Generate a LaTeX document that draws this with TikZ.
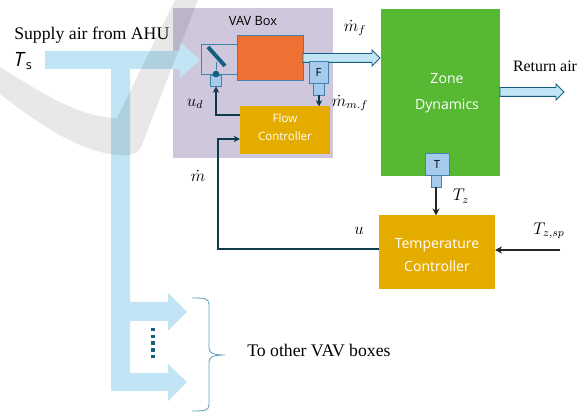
\documentclass[tikz,border=0pt]{standalone}
\usepackage{amsmath,amssymb}
\usepackage{fontspec}
\setmainfont{Liberation Serif}
\setsansfont{Open Sans}
\usepackage{tikz}
\usepackage{xcolor}
\usetikzlibrary{shapes.arrows,arrows.meta}
\definecolor{ductblue}{HTML}{C1E5F5}
\definecolor{sensorblue}{HTML}{A6CAEC}
\definecolor{tealline}{HTML}{156082}
\definecolor{edgeblue}{HTML}{3F84AD}
\definecolor{boxlilac}{HTML}{CFC7DB}
\definecolor{heatorange}{HTML}{ED7132}
\definecolor{ctrlgold}{HTML}{E5AC00}
\definecolor{zonegreen}{HTML}{56B833}
\definecolor{wirenavy}{HTML}{0E3A4E}
\tikzset{
  ctrlbox/.style={fill=ctrlgold,inner sep=0pt,outer sep=0pt},
  boxtext/.style={text=white,align=center,inner sep=0pt},
  sensorbox/.style={fill=sensorblue,draw=edgeblue,line width=0.6pt,inner sep=0pt,outer sep=0pt,font=\sffamily\fontsize{8}{9}\selectfont},
  flowarrow/.style={single arrow,draw=tealline,fill=ductblue,line width=0.6pt,inner sep=0.1cm,outer sep=0pt,single arrow head extend=0.09cm,anchor=west,shape border rotate=0},
  wire/.style={draw=wirenavy,line width=0.8pt,-{Stealth[length=4.5pt,width=4.5pt]}},
  blackwire/.style={draw=black!85,line width=0.8pt,-{Stealth[length=5pt,width=5pt]}},
  mathlabel/.style={inner sep=0pt,font=\fontsize{12}{14}\selectfont},
  serifnote/.style={inner sep=0pt,anchor=west,font=\fontsize{12.6}{15}\selectfont},
}
\begin{document}
\begin{tikzpicture}[x=0.025cm,y=-0.025cm]
\useasboundingbox (0,0) rectangle (580,412);
% VAV box and zone
\fill[boxlilac] (173,8) rectangle (333,158);
\node[fill=zonegreen,draw=white,line width=0.4pt,minimum width=3cm,minimum height=4.2cm,inner sep=0pt,outer sep=0pt] (zone) at (440,92) {};
\node[boxtext,font=\sffamily\fontsize{10}{12}\selectfont] (zonetext) at (447,93) {Zone\\[6.5pt]Dynamics};
% supply duct
\fill[ductblue] (45,51) -- (180,51) -- (180,42) -- (200,60) -- (180,78) -- (180,69) -- (130,69) -- (130,302) -- (168,302) -- (168,293) -- (187,312) -- (168,331) -- (168,321) -- (130,321) -- (130,373) -- (168,373) -- (168,364) -- (187,382) -- (168,401) -- (168,391) -- (111,391) -- (111,69) -- (45,69) -- cycle;
\draw[tealline,line width=2.4pt,dash pattern=on 2.4pt off 2.4pt] (153,328) -- (153,358);
% brace
\draw[edgeblue!80,line width=0.6pt] (192,298) .. controls (203,298) and (209,298) .. (209,304) -- (209,348) .. controls (209,353) and (213,355) .. (225,355) .. controls (213,355) and (209,357) .. (209,362) -- (209,405) .. controls (209,411) and (203,411) .. (192,411);
% damper and heater
\node[draw=edgeblue,line width=0.7pt,minimum width=0.9cm,minimum height=0.75cm,inner sep=0pt,outer sep=0pt] (damper) at (219,59) {};
\node[fill=heatorange,draw=edgeblue,line width=0.7pt,minimum width=1.65cm,minimum height=1.1cm,inner sep=0pt,outer sep=0pt] (heater) at (270,58) {};
\node[sensorbox,minimum width=0.275cm,minimum height=0.275cm] (actuator) at (216,81) {};
\node[circle,fill=tealline,minimum size=0.17cm,inner sep=0pt] (pivot) at (216,74) {};
\draw[edgeblue,line width=0.7pt] (pivot) -- (216,62);
\draw[tealline,line width=2.8pt] (208,47) -- (225,66);
% outlet and return
\node[flowarrow,minimum height=1.925cm,minimum width=0.37cm] (outlet) at (heater.east) {};
\node[flowarrow,minimum height=1.6cm,minimum width=0.4cm] (returnair) at (zone.east) {};
\node[inner sep=0pt,font=\fontsize{11.3}{13}\selectfont] (returnlabel) at (545,66) {Return air};
% flow sensor
\node[sensorbox,minimum width=0.475cm,minimum height=0.55cm] (flowsens) at (318.5,72) {F};
\node[sensorbox,minimum width=0.275cm,minimum height=0.3cm] (flowtip) at (319,89) {};
% controllers
\node[ctrlbox,minimum width=2.25cm,minimum height=1.175cm] (flowctrl) at (285,130) {};
\node[boxtext,font=\sffamily\fontsize{8.2}{10}\selectfont] (flowtext) at (285,127.5) {Flow\\[3pt]Controller};
\node[ctrlbox,minimum width=2.9cm,minimum height=1.825cm] (tempctrl) at (437,252) {};
\node[boxtext,font=\sffamily\fontsize{10}{12}\selectfont] (temptext) at (437,255) {Temperature\\[4pt]Controller};
% temperature sensor
\node[sensorbox,minimum width=0.6cm,minimum height=0.55cm] (tempsens) at (437,164) {T};
\node[sensorbox,minimum width=0.25cm,minimum height=0.3cm] (temptip) at (436,181) {};
% signals
\coordinate (tzspin) at (560,250);
\draw[wire] (flowtip.south) -- (flowtip.south |- flowctrl.north);
\draw[wire] (flowctrl.west |- 0,115) -- (216,115) -- (actuator.south);
\draw[wire] (tempctrl.west |- 0,249) -- (218,249) -- (218,139) -- (flowctrl.west |- 0,139);
\draw[blackwire] (temptip.south) -- (temptip.south |- tempctrl.north);
\draw[blackwire] (tzspin) -- (tempctrl.east |- tzspin);
% labels
\node[serifnote] (supply) at (14,35) {Supply air from AHU};
\node[inner sep=0pt,font=\sffamily\fontsize{14}{16}\selectfont] (ts) at (23,61) {\textit{T}\raisebox{-2pt}{\fontsize{9}{10}\selectfont s}};
\node[inner sep=0pt,font=\sffamily\fontsize{9.1}{11}\selectfont] (vavlabel) at (253,21) {VAV Box};
\node[mathlabel] (mf) at (355,28) {$\dot m_f$};
\node[mathlabel] (mmf) at (350,103) {$\dot m_{m.f}$};
\node[mathlabel] (ud) at (195,104) {$u_d$};
\node[mathlabel] (mdot) at (198,176) {$\dot m$};
\node[mathlabel] (tz) at (461,196) {$T_z$};
\node[mathlabel] (uin) at (359,231) {$u$};
\node[mathlabel] (tzsp) at (549,231) {$T_{z,sp}$};
\node[serifnote] (other) at (247,350) {To other VAV boxes};
% watermark
\fill[black,opacity=0.09] (175,0) -- (198,0) -- (142,145) .. controls (138,155) and (130,156) .. (118,155) .. controls (80,152) and (40,125) .. (0,94) -- (0,67) .. controls (40,92) and (80,118) .. (117,118) -- cycle;
\end{tikzpicture}
\end{document}
